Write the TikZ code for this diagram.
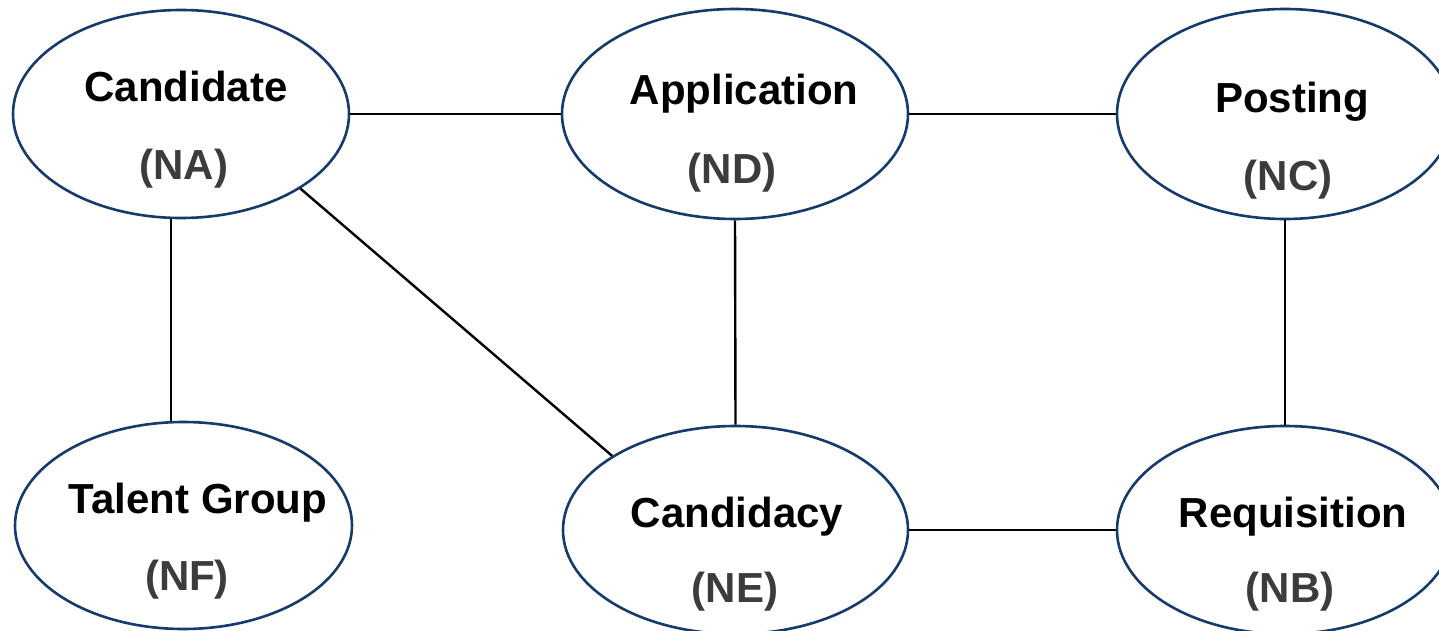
\documentclass[tikz,border=0pt]{standalone}
\usepackage{fontspec}
\setmainfont{Liberation Sans}
\usetikzlibrary{shapes.geometric}
\definecolor{ellblue}{RGB}{22,58,108}
\definecolor{codegray}{RGB}{60,60,60}
\begin{document}
\begin{tikzpicture}[x=1pt,y=-1pt,
  ent/.style={ellipse,draw=ellblue,line width=2.6pt,inner sep=0pt,fill=white},
  ttl/.style={anchor=base,inner sep=0pt,font=\fontsize{42}{46}\selectfont\bfseries,text=black},
  code/.style={anchor=base,inner sep=0pt,font=\fontsize{42}{46}\selectfont\bfseries,text=codegray},
  link/.style={draw=black,line width=2.4pt}]
\path[use as bounding box] (0,0) rectangle (1439,631);
\clip (0,0) rectangle (1439,631);
% entities
\node[ent,minimum width=336pt,minimum height=208pt] (NA) at (181,114) {};
\node[ent,minimum width=346pt,minimum height=210pt] (ND) at (735,114) {};
\node[ent,minimum width=336pt,minimum height=210pt] (NC) at (1285,114) {};
\node[ent,minimum width=337pt,minimum height=207pt] (NF) at (183.5,525.5) {};
\node[ent,minimum width=345pt,minimum height=208pt] (NE) at (735.5,530) {};
\node[ent,minimum width=336pt,minimum height=208pt] (NB) at (1285,530) {};
% labels
\node[ttl] (tA) at (186,102) {Candidate};
\node[code] (cA) at (184,179) {(NA)};
\node[ttl] (tD) at (744,105) {Application};
\node[code] (cD) at (732,183) {(ND)};
\node[ttl] (tC) at (1292,113) {Posting};
\node[code] (cC) at (1288,190) {(NC)};
\node[ttl] (tF) at (198,513) {Talent Group};
\node[code] (cF) at (187,590) {(NF)};
\node[ttl] (tE) at (737,527) {Candidacy};
\node[code] (cE) at (735,602) {(NE)};
\node[ttl] (tB) at (1293,527) {Requisition};
\node[code] (cB) at (1290,602) {(NB)};
% connectors
\draw[link] (NA.east) -- (ND.west);
\draw[link] (ND.east) -- (NC.west);
\draw[link] ([xshift=-10pt]NA.south) -- ([xshift=-12.5pt]NF.north);
\draw[link] (ND.south) -- (NE.north);
\draw[link] (NC.south) -- (NB.north);
\draw[link] (NE.east) -- (NB.west);
\draw[link] (NA.-32) -- (NE.149);
\end{tikzpicture}
\end{document}
